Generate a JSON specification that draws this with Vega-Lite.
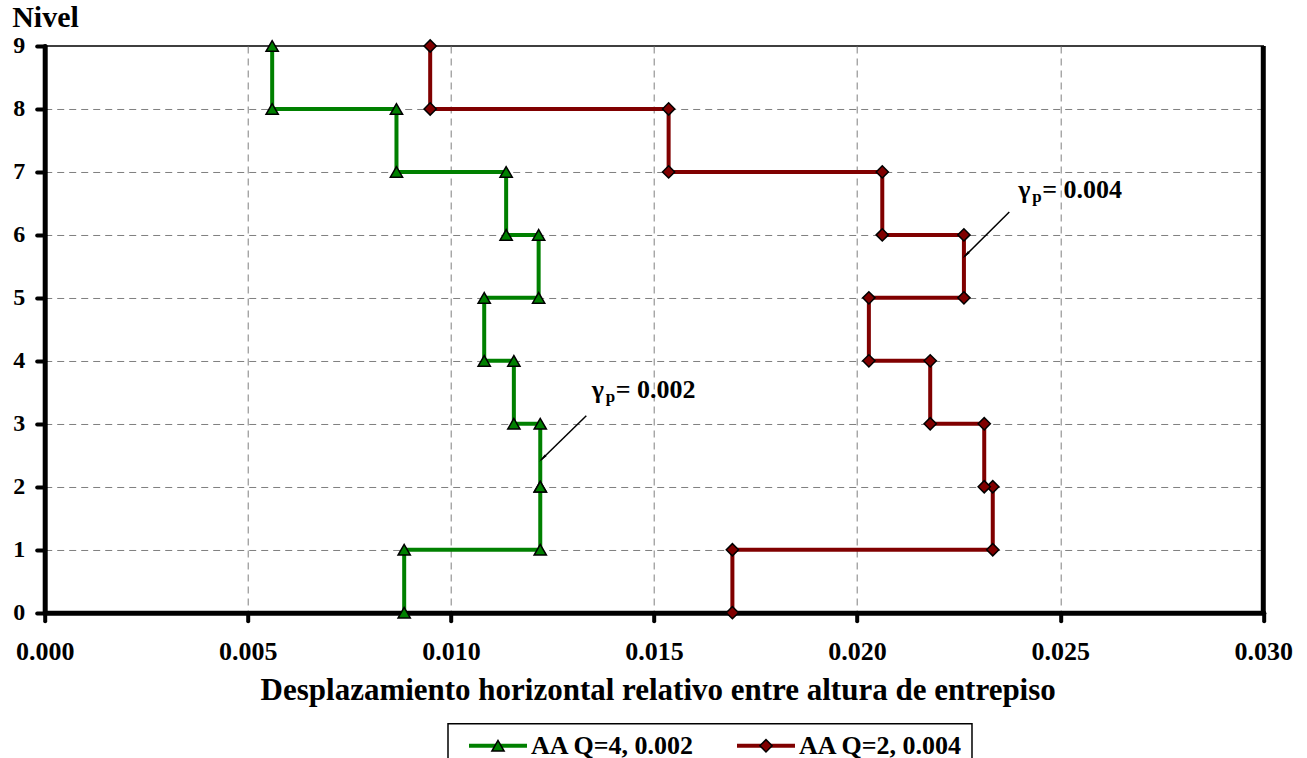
{
  "$schema": "https://vega.github.io/schema/vega-lite/v6.json",
  "width": 1218.6,
  "height": 566.7,
  "autosize": {"type": "none"},
  "padding": {"left": 44.7, "top": 46, "right": 44, "bottom": 146},
  "background": "white",
  "config": {
    "view": {"stroke": "black", "strokeWidth": 1.5},
    "font": "Liberation Serif"
  },
  "datasets": {
    "drift": [
      {"serie": "AA Q=4, 0.002", "ord": 0, "x": 0.00885, "nivel": 0},
      {"serie": "AA Q=4, 0.002", "ord": 1, "x": 0.00885, "nivel": 1},
      {"serie": "AA Q=4, 0.002", "ord": 2, "x": 0.0122, "nivel": 1},
      {"serie": "AA Q=4, 0.002", "ord": 3, "x": 0.0122, "nivel": 2},
      {"serie": "AA Q=4, 0.002", "ord": 4, "x": 0.0122, "nivel": 2},
      {"serie": "AA Q=4, 0.002", "ord": 5, "x": 0.0122, "nivel": 3},
      {"serie": "AA Q=4, 0.002", "ord": 6, "x": 0.01155, "nivel": 3},
      {"serie": "AA Q=4, 0.002", "ord": 7, "x": 0.01155, "nivel": 4},
      {"serie": "AA Q=4, 0.002", "ord": 8, "x": 0.01082, "nivel": 4},
      {"serie": "AA Q=4, 0.002", "ord": 9, "x": 0.01082, "nivel": 5},
      {"serie": "AA Q=4, 0.002", "ord": 10, "x": 0.01216, "nivel": 5},
      {"serie": "AA Q=4, 0.002", "ord": 11, "x": 0.01216, "nivel": 6},
      {"serie": "AA Q=4, 0.002", "ord": 12, "x": 0.01136, "nivel": 6},
      {"serie": "AA Q=4, 0.002", "ord": 13, "x": 0.01136, "nivel": 7},
      {"serie": "AA Q=4, 0.002", "ord": 14, "x": 0.00866, "nivel": 7},
      {"serie": "AA Q=4, 0.002", "ord": 15, "x": 0.00866, "nivel": 8},
      {"serie": "AA Q=4, 0.002", "ord": 16, "x": 0.0056, "nivel": 8},
      {"serie": "AA Q=4, 0.002", "ord": 17, "x": 0.0056, "nivel": 9},
      {"serie": "AA Q=2, 0.004", "ord": 0, "x": 0.01693, "nivel": 0},
      {"serie": "AA Q=2, 0.004", "ord": 1, "x": 0.01693, "nivel": 1},
      {"serie": "AA Q=2, 0.004", "ord": 2, "x": 0.02334, "nivel": 1},
      {"serie": "AA Q=2, 0.004", "ord": 3, "x": 0.02334, "nivel": 2},
      {"serie": "AA Q=2, 0.004", "ord": 4, "x": 0.02313, "nivel": 2},
      {"serie": "AA Q=2, 0.004", "ord": 5, "x": 0.02313, "nivel": 3},
      {"serie": "AA Q=2, 0.004", "ord": 6, "x": 0.0218, "nivel": 3},
      {"serie": "AA Q=2, 0.004", "ord": 7, "x": 0.0218, "nivel": 4},
      {"serie": "AA Q=2, 0.004", "ord": 8, "x": 0.02029, "nivel": 4},
      {"serie": "AA Q=2, 0.004", "ord": 9, "x": 0.02029, "nivel": 5},
      {"serie": "AA Q=2, 0.004", "ord": 10, "x": 0.02263, "nivel": 5},
      {"serie": "AA Q=2, 0.004", "ord": 11, "x": 0.02263, "nivel": 6},
      {"serie": "AA Q=2, 0.004", "ord": 12, "x": 0.02062, "nivel": 6},
      {"serie": "AA Q=2, 0.004", "ord": 13, "x": 0.02062, "nivel": 7},
      {"serie": "AA Q=2, 0.004", "ord": 14, "x": 0.01536, "nivel": 7},
      {"serie": "AA Q=2, 0.004", "ord": 15, "x": 0.01536, "nivel": 8},
      {"serie": "AA Q=2, 0.004", "ord": 16, "x": 0.00949, "nivel": 8},
      {"serie": "AA Q=2, 0.004", "ord": 17, "x": 0.00949, "nivel": 9}
    ],
    "notes": [
      {"x": 0.013466, "nivel": 3.405, "val": "= 0.002"},
      {"x": 0.023969, "nivel": 6.581, "val": "= 0.004"}
    ],
    "arrows": [
      {"x": 0.013333, "nivel": 3.128, "x2": 0.012218, "nivel2": 2.425},
      {"x": 0.023747, "nivel": 6.363, "x2": 0.022639, "nivel2": 5.654}
    ],
    "heads": [
      {"x": 0.01228, "nivel": 2.465},
      {"x": 0.0227, "nivel": 5.694}
    ]
  },
  "layer": [
    {
      "data": {"name": "drift"},
      "mark": {"type": "line", "strokeWidth": 4},
      "encoding": {
        "x": {
          "field": "x", "type": "quantitative",
          "scale": {"domain": [0, 0.03], "nice": false, "zero": false},
          "axis": {
            "title": "Desplazamiento horizontal relativo entre altura de entrepiso",
            "values": [0, 0.005, 0.01, 0.015, 0.02, 0.025, 0.03],
            "format": ".3f",
            "grid": true, "gridColor": "#808080", "gridDash": [7, 5], "gridWidth": 1,
            "gridOpacity": {"condition": {"test": "datum.value <= 0.0001 || datum.value >= 0.0299", "value": 0}, "value": 1},
            "domainColor": "black", "domainWidth": 5, "domainCap": "round",
            "tickColor": "black", "tickWidth": 4, "tickSize": 8, "tickCap": "round",
            "labelFont": "Liberation Serif", "labelFontWeight": "bold", "labelFontSize": 26, "labelColor": "black",
            "labelPadding": 39, "labelBaseline": "alphabetic", "labelFlush": false, "labelOverlap": false,
            "titleFont": "Liberation Serif", "titleFontSize": 31, "titleFontWeight": "bold", "titleColor": "black",
            "titleBaseline": "alphabetic", "titleAlign": "center", "titleX": 613, "titleY": 87
          }
        },
        "y": {
          "field": "nivel", "type": "quantitative",
          "scale": {"domain": [0, 9], "nice": false, "zero": false},
          "axis": {
            "title": "Nivel",
            "values": [0, 1, 2, 3, 4, 5, 6, 7, 8, 9],
            "format": "d",
            "grid": true, "gridColor": "#808080", "gridDash": [7, 5], "gridWidth": 1,
            "gridOpacity": {"condition": {"test": "datum.value <= 0 || datum.value >= 9", "value": 0}, "value": 1},
            "domainColor": "black", "domainWidth": 5, "domainCap": "round",
            "tickColor": "black", "tickWidth": 4, "tickSize": 8, "tickCap": "round",
            "labelFont": "Liberation Serif", "labelFontWeight": "bold", "labelFontSize": 24, "labelColor": "black",
            "labelPadding": 12,
            "titleFont": "Liberation Serif", "titleFontSize": 30, "titleFontWeight": "bold", "titleColor": "black",
            "titleAngle": 0, "titleAlign": "left", "titleBaseline": "alphabetic", "titleX": -33, "titleY": -19
          }
        },
        "order": {"field": "ord", "type": "quantitative"},
        "color": {
          "field": "serie", "type": "nominal",
          "scale": {"domain": ["AA Q=4, 0.002", "AA Q=2, 0.004"], "range": ["#008000", "#800000"]},
          "legend": {
            "title": null, "orient": "none", "legendX": 403.3, "legendY": 677.8, "direction": "horizontal",
            "symbolType": "M-14.5,0H14.5", "symbolSize": 16, "symbolStrokeWidth": 4,
            "symbolOffset": 28, "labelOffset": 20, "columnPadding": 30,
            "labelFont": "Liberation Serif", "labelFontSize": 26, "labelFontWeight": "bold", "labelColor": "black",
            "labelOpacity": 0, "labelLimit": 400,
            "strokeColor": "black", "fillColor": "white", "padding": 9,
            "encode": {"legend": {"update": {"strokeWidth": {"value": 1.5}}}}
          }
        }
      }
    },
    {
      "data": {"name": "drift"},
      "mark": {"type": "point", "filled": true, "size": 150, "stroke": "black", "strokeWidth": 1.5, "opacity": 1},
      "encoding": {
        "x": {"field": "x", "type": "quantitative"},
        "y": {"field": "nivel", "type": "quantitative"},
        "color": {
          "field": "serie", "type": "nominal",
          "scale": {"domain": ["AA Q=4, 0.002", "AA Q=2, 0.004"], "range": ["#008000", "#800000"]},
          "legend": {
            "title": null, "orient": "none", "legendX": 403.3, "legendY": 677.8, "direction": "horizontal",
            "symbolSize": 150, "symbolStrokeColor": "black", "symbolStrokeWidth": 1.5, "symbolOpacity": 1,
            "symbolOffset": 28, "labelOffset": 20, "columnPadding": 30,
            "labelFont": "Liberation Serif", "labelFontSize": 26, "labelFontWeight": "bold", "labelColor": "black",
            "labelLimit": 400, "padding": 9,
            "encode": {"symbols": {"update": {"stroke": {"value": "black"}, "strokeWidth": {"value": 1.5}}}}
          }
        },
        "shape": {
          "field": "serie", "type": "nominal",
          "scale": {"domain": ["AA Q=4, 0.002", "AA Q=2, 0.004"], "range": ["triangle-up", "diamond"]},
          "legend": {
            "title": null, "orient": "none", "legendX": 403.3, "legendY": 677.8, "direction": "horizontal",
            "symbolSize": 150, "symbolStrokeColor": "black", "symbolStrokeWidth": 1.5, "symbolOpacity": 1,
            "symbolOffset": 28, "labelOffset": 20, "columnPadding": 30,
            "labelFont": "Liberation Serif", "labelFontSize": 26, "labelFontWeight": "bold", "labelColor": "black",
            "labelLimit": 400, "padding": 9,
            "encode": {"symbols": {"update": {"stroke": {"value": "black"}, "strokeWidth": {"value": 1.5}}}}
          }
        }
      }
    },
    {
      "data": {"values": [{}]},
      "mark": {"type": "rule", "strokeWidth": 5, "color": "black"},
      "encoding": {"x": {"datum": 0.03}}
    },
    {
      "data": {"name": "arrows"},
      "mark": {"type": "rule", "strokeWidth": 1.5, "color": "black"},
      "encoding": {
        "x": {"field": "x", "type": "quantitative"},
        "y": {"field": "nivel", "type": "quantitative"},
        "x2": {"field": "x2"},
        "y2": {"field": "nivel2"}
      }
    },
    {
      "data": {"name": "heads"},
      "mark": {"type": "point", "shape": "wedge", "angle": 225, "size": 110, "filled": true, "color": "black", "opacity": 1},
      "encoding": {
        "x": {"field": "x", "type": "quantitative"},
        "y": {"field": "nivel", "type": "quantitative"}
      }
    },
    {
      "data": {"name": "notes"},
      "mark": {"type": "text", "text": "γ", "align": "left", "baseline": "alphabetic", "font": "Liberation Serif", "fontWeight": "bold", "fontSize": 26, "color": "black"},
      "encoding": {
        "x": {"field": "x", "type": "quantitative"},
        "y": {"field": "nivel", "type": "quantitative"}
      }
    },
    {
      "data": {"name": "notes"},
      "mark": {"type": "text", "text": "p", "align": "left", "baseline": "alphabetic", "dx": 14, "dy": 4, "font": "Liberation Serif", "fontWeight": "bold", "fontSize": 17, "color": "black"},
      "encoding": {
        "x": {"field": "x", "type": "quantitative"},
        "y": {"field": "nivel", "type": "quantitative"}
      }
    },
    {
      "data": {"name": "notes"},
      "mark": {"type": "text", "align": "left", "baseline": "alphabetic", "dx": 24, "font": "Liberation Serif", "fontWeight": "bold", "fontSize": 26, "color": "black"},
      "encoding": {
        "x": {"field": "x", "type": "quantitative"},
        "y": {"field": "nivel", "type": "quantitative"},
        "text": {"field": "val"}
      }
    }
  ],
  "resolve": {"legend": {"color": "independent", "shape": "independent"}}
}
